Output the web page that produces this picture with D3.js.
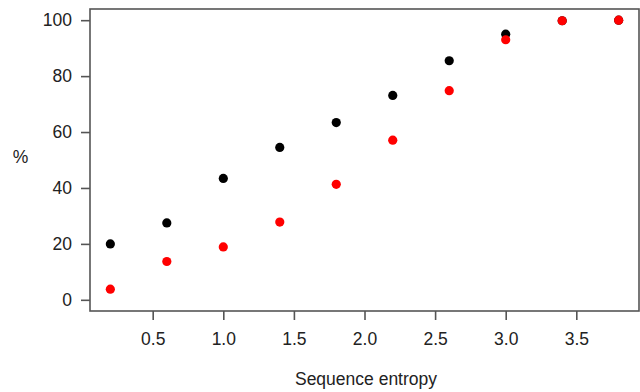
<!DOCTYPE html>
<html><head><meta charset="utf-8">
<script src="https://cdn.jsdelivr.net/npm/d3@7"></script>
<style>body{margin:0;background:#fff}svg{display:block}text{font-family:"Liberation Sans",Arial,sans-serif;fill:#222}</style>
</head><body>
<svg id="c" width="640" height="392"></svg>
<script>
const entropy = [0.2, 0.6, 1.0, 1.4, 1.8, 2.2, 2.6, 3.0, 3.4, 3.8];
const blackSeries = [20, 27.5, 43.4, 54.5, 63.4, 73.1, 85.5, 95.0, 99.8, 100];
const redSeries = [3.8, 13.7, 18.9, 27.8, 41.3, 57.1, 74.8, 93.0, 99.8, 100];
const xTicks = [0.5, 1.0, 1.5, 2.0, 2.5, 3.0, 3.5];
const yTicks = [0, 20, 40, 60, 80, 100];

const L = 90, R = 639, T = 9, B = 311;
const svg = d3.select("#c");
const x = d3.scaleLinear().domain([0.056, 3.944]).range([L, R]);
const y = d3.scaleLinear().domain([-4, 104]).range([B, T]);
const axisColor = "#555";

svg.append("rect").attr("x", L).attr("y", T).attr("width", R - L).attr("height", B - T)
  .attr("fill", "none").attr("stroke", axisColor).attr("stroke-width", 1.6);

const xa = svg.append("g").attr("transform", `translate(0,${B})`)
  .call(d3.axisBottom(x).tickValues(xTicks).tickFormat(d3.format(".1f")).tickSize(9).tickPadding(13));
const ya = svg.append("g").attr("transform", `translate(${L},0)`)
  .call(d3.axisLeft(y).tickValues(yTicks).tickSize(9).tickPadding(9));
[xa, ya].forEach(g => {
  g.select(".domain").remove();
  g.selectAll("line").attr("stroke", axisColor).attr("stroke-width", 1.6);
  g.selectAll("text").attr("font-size", "17.5px").attr("fill", "#222")
    .attr("font-family", '"Liberation Sans",Arial,sans-serif');
});

svg.append("text").attr("x", 366).attr("y", 385).attr("text-anchor", "middle")
  .attr("font-size", "17.5px").text("Sequence entropy");
svg.append("text").attr("x", 20.5).attr("y", 163).attr("text-anchor", "middle")
  .attr("font-size", "17.5px").text("%");

svg.append("g").selectAll("circle").data(entropy.map((e, i) => [e, blackSeries[i]])).join("circle")
  .attr("cx", d => x(d[0])).attr("cy", d => y(d[1])).attr("r", 4.6).attr("fill", "#000");
svg.append("g").selectAll("circle").data(entropy.map((e, i) => [e, redSeries[i]])).join("circle")
  .attr("cx", d => x(d[0])).attr("cy", d => y(d[1])).attr("r", 4.6).attr("fill", "#f00");
</script>
</body></html>
